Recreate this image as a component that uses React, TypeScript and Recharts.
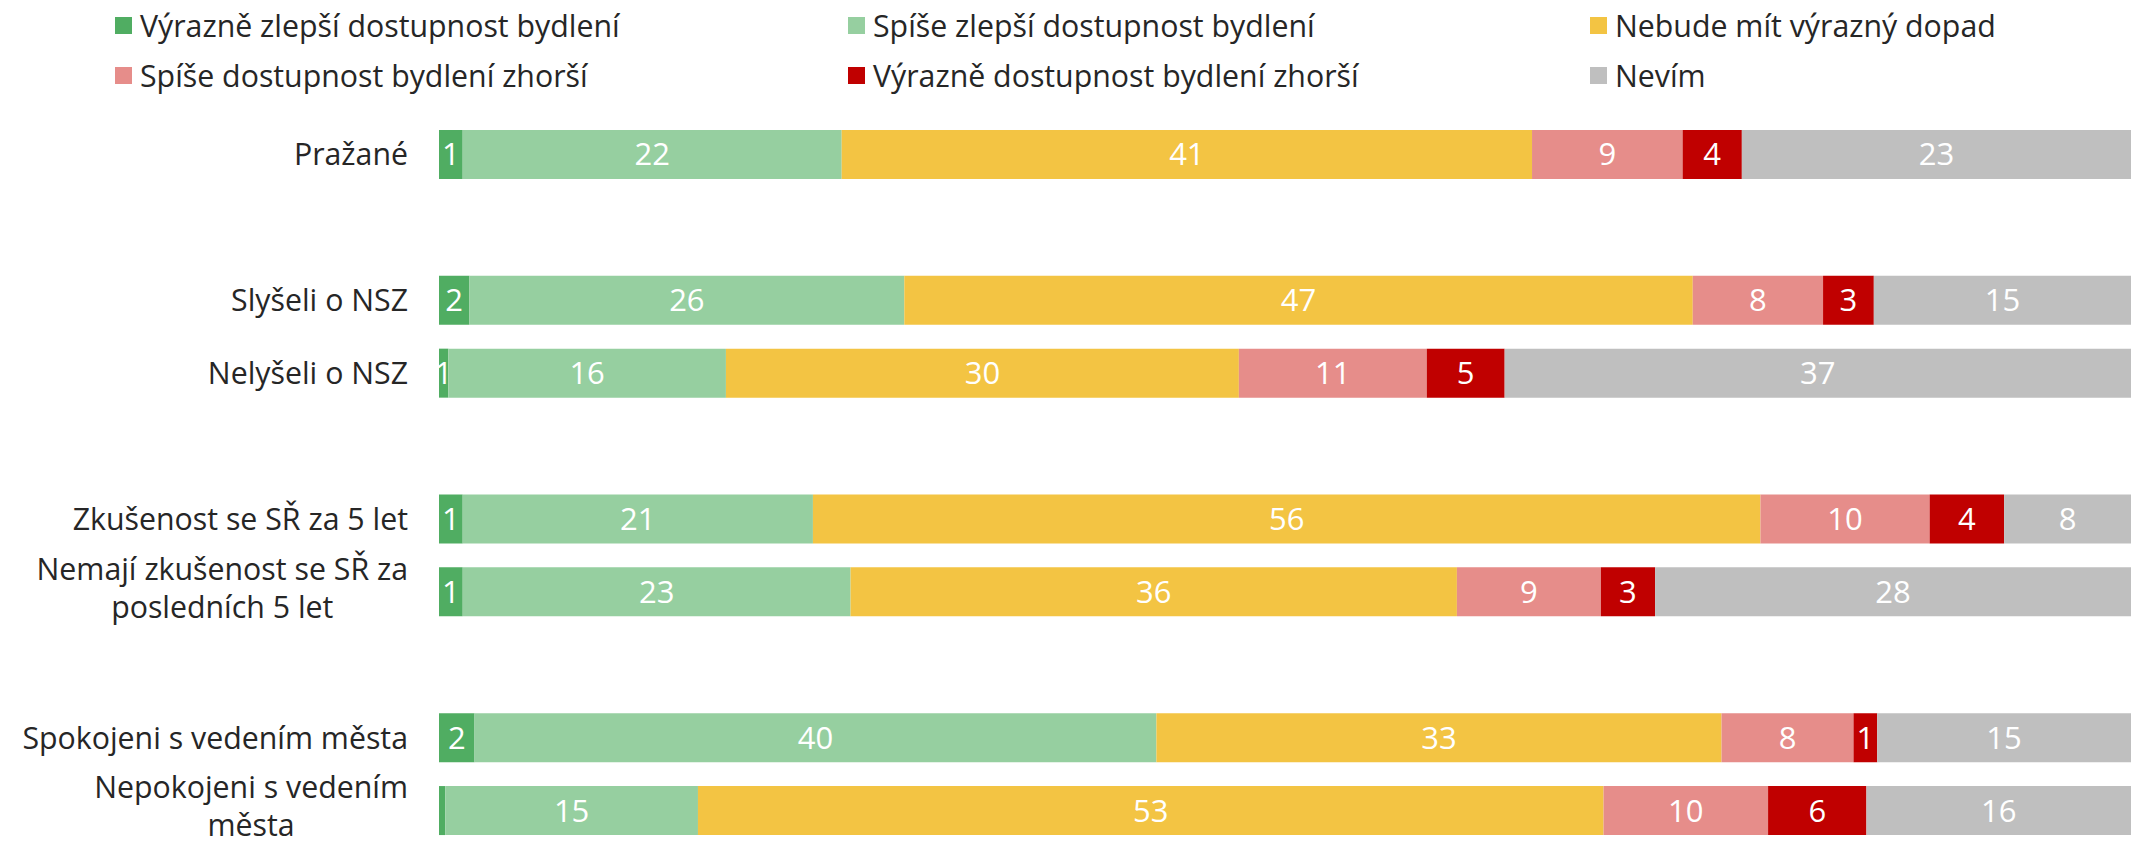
import React from 'react';
import { BarChart, Bar, XAxis, YAxis, Legend, LabelList } from 'recharts';

// Category labels ("\n" marks where the original label wraps); blank entries are spacer rows
const categories = [
  'Pražané',
  ' ',
  'Slyšeli o NSZ',
  'Nelyšeli o NSZ',
  '  ',
  'Zkušenost se SŘ za 5 let',
  'Nemají zkušenost se SŘ za\nposledních 5 let',
  '   ',
  'Spokojeni s vedením města',
  'Nepokojeni s vedením\nměsta',
];

const seriesNames = [
  'Výrazně zlepší dostupnost bydlení',
  'Spíše zlepší dostupnost bydlení',
  'Nebude mít výrazný dopad',
  'Spíše dostupnost bydlení zhorší',
  'Výrazně dostupnost bydlení zhorší',
  'Nevím',
];

const vyrazneZlepsi = [1.4, null, 1.8, 0.55, null, 1.4, 1.4, null, 2.1, 0.37];
const spiseZlepsi = [22.4, null, 25.7, 16.4, null, 20.7, 22.9, null, 40.3, 14.9];
const nebudeMit = [40.8, null, 46.6, 30.3, null, 56.0, 35.8, null, 33.4, 53.4];
const spiseZhorsi = [8.9, null, 7.7, 11.1, null, 10.0, 8.5, null, 7.8, 9.7];
const vyrazneZhorsi = [3.5, null, 3.0, 4.6, null, 4.4, 3.2, null, 1.4, 5.8];
const nevim = [23.0, null, 15.2, 37.0, null, 7.5, 28.1, null, 15.0, 15.6];

const seriesValues = [vyrazneZlepsi, spiseZlepsi, nebudeMit, spiseZhorsi, vyrazneZhorsi, nevim];
const seriesKeys = ['s1', 's2', 's3', 's4', 's5', 's6'];
const seriesColors = ['#50AD62', '#96CFA0', '#F3C443', '#E68D8A', '#C00000', '#BFBFBF'];

const data = categories.map((name, i) => {
  const row: Record<string, any> = { name };
  seriesKeys.forEach((k, j) => {
    row[k] = seriesValues[j][i];
  });
  return row;
});

const FONT = "'Open Sans', 'Noto Sans', sans-serif";
const TEXT_COLOR = '#262626';
const TICK_SIZE = 30.3;
const LEGEND_SIZE = 30.3;

let ctx: CanvasRenderingContext2D | null = null;
const measure = (s: string) => {
  if (!ctx) {
    const c = document.createElement('canvas');
    ctx = c.getContext('2d');
  }
  if (!ctx) return s.length * TICK_SIZE * 0.52;
  ctx.font = `${TICK_SIZE}px 'Open Sans'`;
  return ctx.measureText(s).width;
};

const CategoryTick = (props: any) => {
  const { x, y, payload } = props;
  const text = String(payload?.value ?? '');
  if (!text.trim()) return null;
  const lines = text.split('\n');
  if (lines.length === 1) {
    return (
      <text x={x} y={y} dy="0.36em" textAnchor="end" fontFamily={FONT} fontSize={TICK_SIZE} fill={TEXT_COLOR}>
        {text}
      </text>
    );
  }
  const w = Math.max(...lines.map(measure));
  const cx = x - w / 2;
  const lh = 38;
  return (
    <text fontFamily={FONT} fontSize={TICK_SIZE} fill={TEXT_COLOR} textAnchor="middle">
      {lines.map((l, i) => (
        <tspan key={i} x={cx} y={y + (i - (lines.length - 1) / 2) * lh - 4} dy="0.36em">
          {l}
        </tspan>
      ))}
    </text>
  );
};

const LegendContent = () => (
  <div
    style={{
      display: 'grid',
      gridTemplateColumns: '733px 742px 600px',
      paddingLeft: 115,
      fontFamily: FONT,
      fontSize: LEGEND_SIZE,
      color: TEXT_COLOR,
    }}
  >
    {seriesNames.map((name, i) => (
      <div key={i} style={{ height: 50, display: 'flex', alignItems: 'center', whiteSpace: 'nowrap' }}>
        <span style={{ display: 'inline-block', width: 17, height: 17, background: seriesColors[i], marginRight: 8 }} />
        <span>{name}</span>
      </div>
    ))}
  </div>
);

const fmt = (v: any) => {
  if (v === null || v === undefined) return '';
  const r = Math.round(Number(v));
  return r === 0 ? '' : String(r);
};

export default function App() {
  return (
    <div style={{ position: 'absolute', left: 0, top: 0, width: 2131, height: 847, background: '#fff' }}>
      <BarChart
        width={2131}
        height={847}
        data={data}
        layout="vertical"
        stackOffset="expand"
        barCategoryGap="16.4%"
        margin={{ top: 18, right: 0, bottom: 0, left: 0 }}
      >
        <XAxis type="number" hide domain={[0, 1]} />
        <YAxis
          type="category"
          dataKey="name"
          width={439}
          axisLine={false}
          tickLine={false}
          tickSize={0}
          tickMargin={31}
          interval={0}
          tick={<CategoryTick />}
        />
        <Legend
          verticalAlign="top"
          align="left"
          content={<LegendContent />}
          wrapperStyle={{ top: 0, left: 0, width: 2131, height: 100 }}
        />
        {seriesKeys.map((k, j) => (
          <Bar key={k} dataKey={k} name={seriesNames[j]} stackId="a" fill={seriesColors[j]} isAnimationActive={false}>
            <LabelList
              dataKey={k}
              position="center"
              formatter={fmt}
              fill="#FFFFFF"
              fontSize={31}
              fontFamily={FONT}
            />
          </Bar>
        ))}
      </BarChart>
    </div>
  );
}
